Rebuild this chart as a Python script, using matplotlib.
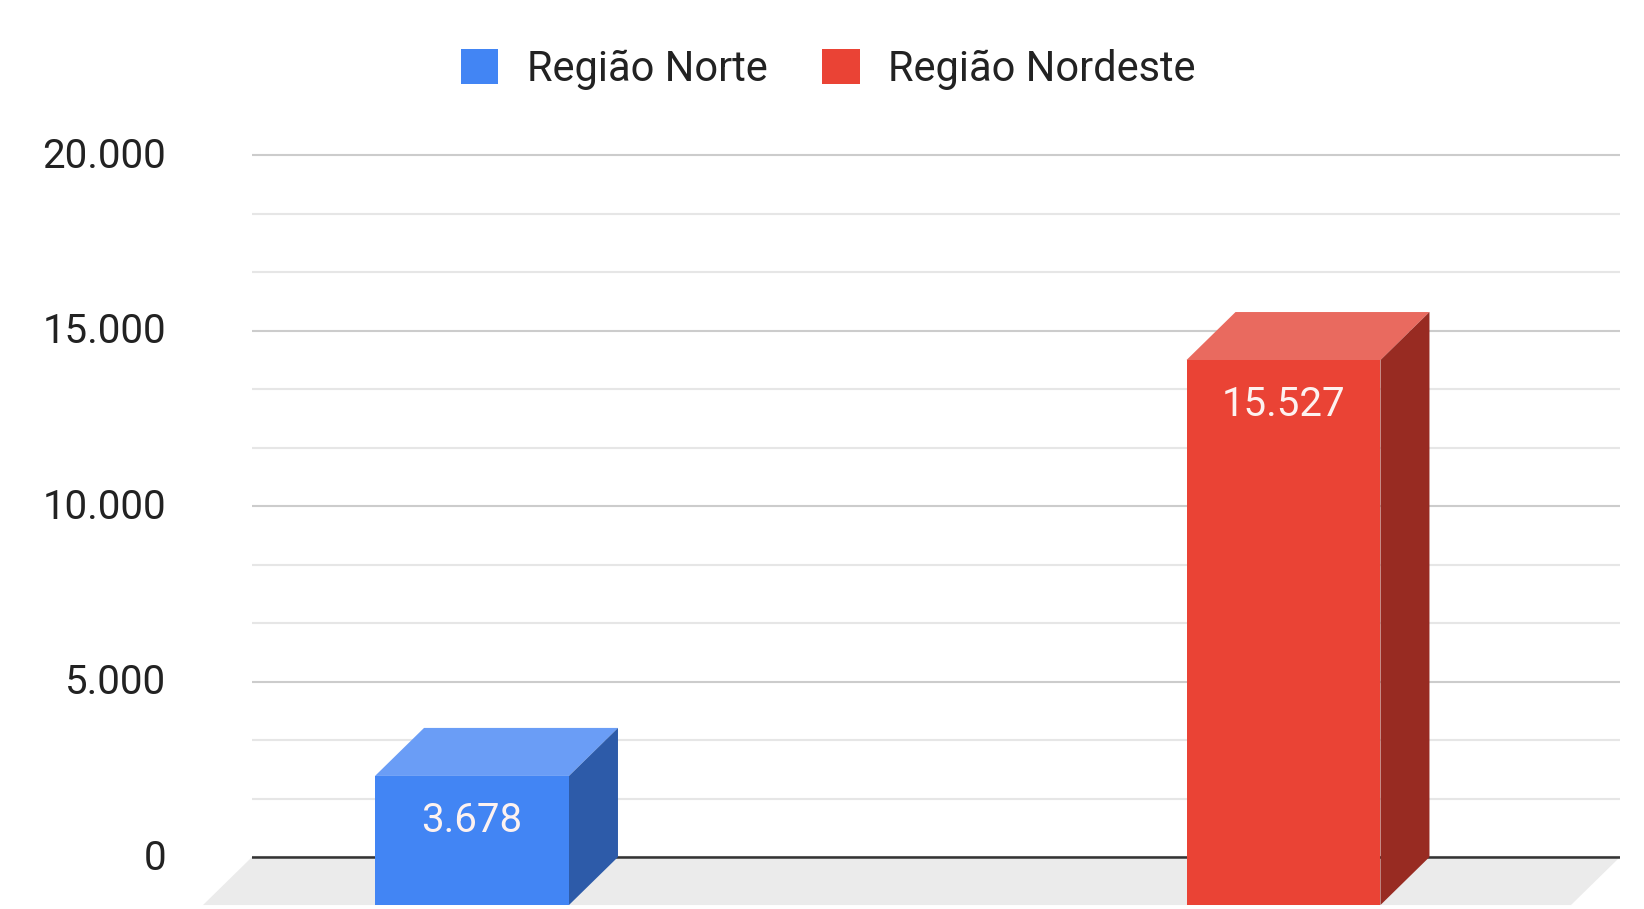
import numpy as np
import matplotlib
matplotlib.use('Agg')
import matplotlib.pyplot as plt
import matplotlib.transforms as mtransforms
from matplotlib.patches import Polygon, Rectangle, Patch

plt.rcParams['font.family'] = ['Roboto', 'DejaVu Sans']

# Data
series = ['Região Norte', 'Região Nordeste']
values = [3678, 15527]
labels = ['3.678', '15.527']
positions = [0, 1]

yticks = [0, 5000, 10000, 15000, 20000]
ytick_labels = ['0', '5.000', '10.000', '15.000', '20.000']
minor_ticks = np.arange(0, 20001, 5000 / 3)

front_colors = ['#4285f4', '#ea4335']
top_colors = ['#6a9df6', '#e96a5f']
side_colors = ['#2d5ba9', '#982b22']

# Geometry (data units)
bar_w = 0.239
depth_x = 0.0604
depth_y = 1368

fig = plt.figure(figsize=(16.44, 9.09), dpi=100)
ax = fig.add_axes([252 / 1644, 0, 1368 / 1644, 764.5 / 909])
ax.set_xlim(-0.2711, 1.4147)
ax.set_ylim(-1481, 20300)

# Gridlines
ax.set_yticks(yticks)
ax.set_yticklabels(ytick_labels)
ax.set_yticks(minor_ticks, minor=True)
ax.yaxis.grid(True, which='major', color='#cccccc', linewidth=1.5, zorder=1)
ax.yaxis.grid(True, which='minor', color='#e6e6e6', linewidth=1.5, zorder=1)
ax.tick_params(axis='y', which='both', length=0, pad=62, labelsize=29,
               labelcolor='#222222')
ax.tick_params(axis='x', bottom=False, labelbottom=False)
shift_up = mtransforms.ScaledTranslation(0, 3 / 100, fig.dpi_scale_trans)
for t in ax.get_yticklabels():
    t.set_transform(t.get_transform() + shift_up)
for s in ax.spines.values():
    s.set_visible(False)
ax.set_axisbelow(True)

# Floor
x0, x1 = ax.get_xlim()
floor = Polygon([(x0, 0), (x1, 0), (x1 - depth_x, -depth_y), (x0 - depth_x, -depth_y)],
                closed=True, facecolor='#ebebeb', edgecolor='none', zorder=0.5,
                clip_on=False)
ax.add_patch(floor)
ax.axhline(0, color='#333333', linewidth=1.8, zorder=2)

# 3D bars
for xc, v, lab, fc, tc, sc in zip(positions, values, labels,
                                  front_colors, top_colors, side_colors):
    xl, xr = xc - bar_w / 2, xc + bar_w / 2
    top = Polygon([(xl, v - depth_y), (xr, v - depth_y),
                   (xr + depth_x, v), (xl + depth_x, v)],
                  closed=True, facecolor=tc, edgecolor='none', zorder=3)
    side = Polygon([(xr, -depth_y), (xr + depth_x, 0),
                    (xr + depth_x, v), (xr, v - depth_y)],
                   closed=True, facecolor=sc, edgecolor='none', zorder=3)
    front = Rectangle((xl, -depth_y), bar_w, v, facecolor=fc,
                      edgecolor='none', zorder=4, clip_on=False)
    ax.add_patch(top)
    ax.add_patch(side)
    ax.add_patch(front)
    ax.annotate(lab, (xc, v - depth_y), xytext=(0, -32),
                textcoords='offset points', ha='center', va='center',
                fontsize=29, color='#fdf2f0', zorder=5)

# Legend
handles = [Patch(facecolor=c, edgecolor='none') for c in front_colors]
fig.legend(handles, series, loc='center', bbox_to_anchor=(828 / 1644, 1 - 69 / 909),
           ncol=2, frameon=False, fontsize=30, handlelength=0.91,
           handleheight=0.91, handletextpad=0.68, columnspacing=1.3,
           labelcolor='#222222')

fig.savefig('out.png', dpi=100)
